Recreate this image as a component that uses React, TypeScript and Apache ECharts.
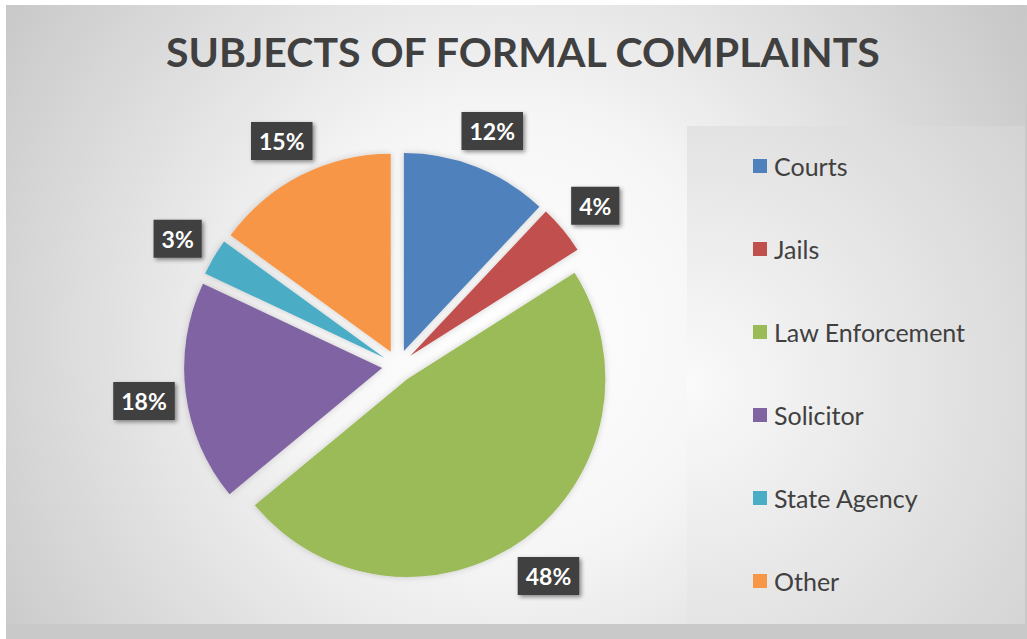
import React, { useEffect, useRef } from "react";
import * as echarts from "echarts";

const TITLE = "SUBJECTS OF FORMAL COMPLAINTS";
const categories = ["Courts", "Jails", "Law Enforcement", "Solicitor", "State Agency", "Other"];
const values = [12, 4, 48, 18, 3, 15];
const colors = ["#4f81bd", "#c0504d", "#9bbb59", "#8064a2", "#4bacc6", "#f79646"];

const W = 1019;
const H = 619;
const CX = 392;
const CY = 361;
const R = 198;

export default function App() {
  const ref = useRef<HTMLDivElement>(null);
  useEffect(() => {
    if (!ref.current) return;
    const chart = echarts.init(ref.current, null, { renderer: "svg" });
    chart.setOption({
      animation: false,
      color: colors,
      title: {
        text: TITLE,
        left: 155,
        top: 21,
        textStyle: {
          fontFamily: "Lato",
          fontWeight: "bold",
          fontSize: 41,
          color: "#404040",
        },
      },
      graphic: [
        {
          type: "rect",
          z: -10,
          silent: true,
          shape: { x: 0, y: 0, width: W, height: H },
          style: {
            fill: {
              type: "radial",
              x: 500,
              y: 330,
              r: 620,
              global: true,
              colorStops: [
                { offset: 0, color: "#ffffff" },
                { offset: 0.35, color: "#f6f6f6" },
                { offset: 1, color: "#c6c6c6" },
              ],
            },
          },
        },
        {
          type: "rect",
          z: -9,
          silent: true,
          shape: { x: 681, y: 121, width: W - 681, height: H - 121 },
          style: {
            fill: {
              type: "radial",
              x: 681,
              y: 380,
              r: 420,
              global: true,
              colorStops: [
                { offset: 0, color: "#fafafa" },
                { offset: 1, color: "#d4d4d4" },
              ],
            },
          },
        },
      ],
      legend: {
        orient: "vertical",
        left: 742,
        top: 143,
        icon: "rect",
        itemWidth: 14,
        itemHeight: 14,
        itemGap: 57,
        data: categories,
        textStyle: {
          fontFamily: "Lato",
          fontSize: 25,
          lineHeight: 26,
          color: "#404040",
          padding: [0, 0, 0, 2],
        },
      },
      series: [
        {
          type: "pie",
          center: [CX, CY],
          radius: R,
          startAngle: 90,
          clockwise: true,
          selectedMode: "multiple",
          selectedOffset: 16,
          itemStyle: {
            shadowBlur: 6,
            shadowColor: "rgba(0,0,0,0.18)",
          },
          label: { show: false },
          labelLine: { show: false },
          data: categories.map((name, i) => ({
            name,
            value: values[i],
            selected: true,
          })),
        },
        {
          type: "pie",
          center: [CX, CY + 3],
          radius: [236, 270],
          startAngle: 90,
          clockwise: true,
          silent: true,
          selectedMode: false,
          itemStyle: { color: "rgba(0,0,0,0)" },
          labelLine: { show: false },
          label: {
            show: true,
            position: "inside",
            formatter: (p: any) => Math.round(p.percent) + "%",
            fontFamily: "Lato",
            fontWeight: "bold",
            fontSize: 23,
            lineHeight: 24,
            color: "#ffffff",
            backgroundColor: "#404040",
            padding: [7, 8],
            shadowBlur: 4,
            shadowOffsetX: 2,
            shadowOffsetY: 2,
            shadowColor: "rgba(0,0,0,0.45)",
          },
          data: categories.map((name, i) => ({
            name,
            value: values[i],
          })),
        },
      ],
    });
    return () => chart.dispose();
  }, []);

  return (
    <div
      style={{
        position: "fixed",
        left: 0,
        top: 0,
        width: 1027,
        height: 639,
        background: "#c9c9c9",
      }}
    >
      <div style={{ position: "absolute", left: 0, top: 0, width: 1027, height: 5, background: "#ffffff" }} />
      <div style={{ position: "absolute", left: 0, top: 0, width: 6, height: 639, background: "#ffffff" }} />
      <div ref={ref} style={{ position: "absolute", left: 6, top: 5, width: W, height: H }} />
    </div>
  );
}
